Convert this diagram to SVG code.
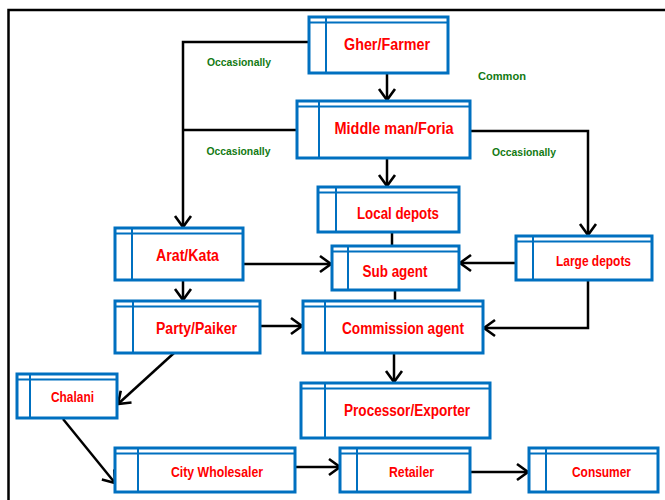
<svg xmlns="http://www.w3.org/2000/svg" width="665" height="500" viewBox="0 0 665 500">
<style>
.box{fill:#fff;stroke:#0070C0;stroke-width:3}
.in{stroke:#0070C0;stroke-width:2;fill:none}
.lbl{font-family:"Liberation Sans",Arial,sans-serif;font-weight:bold;fill:#FF0000;text-anchor:middle}
.note{font-family:"Liberation Sans",Arial,sans-serif;font-weight:bold;fill:#137A13;font-size:11.5px;text-anchor:middle}
.c{fill:none;stroke:#000;stroke-width:2.5}
</style>
<defs>
<marker id="ah" markerUnits="userSpaceOnUse" markerWidth="16" markerHeight="20" refX="12" refY="9" orient="auto" viewBox="0 0 16 18">
<path d="M1,1 L12,9 L1,17" fill="none" stroke="#000" stroke-width="2.6"/>
</marker>
</defs>
<rect x="0" y="0" width="665" height="500" fill="#fff"/>
<path d="M8.5,500 V10 H665" fill="none" stroke="#000" stroke-width="2.5"/>

<g id="connectors">
<path class="c" d="M387,73 V100" marker-end="url(#ah)"/>
<path class="c" d="M309,42 H183 V227" marker-end="url(#ah)"/>
<path class="c" d="M297,130 H183"/>
<path class="c" d="M470,131 H588 V235" marker-end="url(#ah)"/>
<path class="c" d="M387,158 V186" marker-end="url(#ah)"/>
<path class="c" d="M392,232 V246"/>
<path class="c" d="M395,290 V301"/>
<path class="c" d="M243,264 H331" marker-end="url(#ah)"/>
<path class="c" d="M516,263 H460" marker-end="url(#ah)"/>
<path class="c" d="M588,280 V328 H484" marker-end="url(#ah)"/>
<path class="c" d="M183,280 V300" marker-end="url(#ah)"/>
<path class="c" d="M260,326 H302" marker-end="url(#ah)"/>
<path class="c" d="M174,353 L118,404" marker-end="url(#ah)"/>
<path class="c" d="M63,419 L115,483" marker-end="url(#ah)"/>
<path class="c" d="M394,353 V382" marker-end="url(#ah)"/>
<path class="c" d="M296,467 H340" marker-end="url(#ah)"/>
<path class="c" d="M471,472 H528" marker-end="url(#ah)"/>
</g>

<g id="gher-farmer">
<rect class="box" x="309" y="17" width="139" height="56"/>
<path class="in" d="M309,22.5 H448 M326,17 V73"/>
<text class="lbl" x="387" y="49.5" font-size="16" textLength="86" lengthAdjust="spacingAndGlyphs">Gher/Farmer</text>
</g>
<g id="middle-man">
<rect class="box" x="297" y="101" width="173" height="57"/>
<path class="in" d="M297,106.5 H470 M319,101 V158"/>
<text class="lbl" x="394" y="133.5" font-size="16" textLength="119" lengthAdjust="spacingAndGlyphs">Middle man/Foria</text>
</g>
<g id="local-depots">
<rect class="box" x="318" y="187" width="141" height="45"/>
<path class="in" d="M318,192.5 H459 M336,187 V232"/>
<text class="lbl" x="398" y="218.5" font-size="16" textLength="82" lengthAdjust="spacingAndGlyphs">Local depots</text>
</g>
<g id="sub-agent">
<rect class="box" x="332" y="246" width="127" height="44"/>
<path class="in" d="M332,251.5 H459 M348,246 V290"/>
<text class="lbl" x="395" y="276.5" font-size="16" textLength="65" lengthAdjust="spacingAndGlyphs">Sub agent</text>
</g>
<g id="commission-agent">
<rect class="box" x="303" y="301" width="180" height="52"/>
<path class="in" d="M303,306.5 H483 M325,301 V353"/>
<text class="lbl" x="403" y="333.5" font-size="16" textLength="122" lengthAdjust="spacingAndGlyphs">Commission agent</text>
</g>
<g id="large-depots">
<rect class="box" x="516" y="236" width="136" height="44"/>
<path class="in" d="M516,241.5 H652 M533,236 V280"/>
<text class="lbl" x="593.5" y="265.5" font-size="14" textLength="75" lengthAdjust="spacingAndGlyphs">Large depots</text>
</g>
<g id="arat-kata">
<rect class="box" x="115" y="228" width="128" height="52"/>
<path class="in" d="M115,233.5 H243 M132,228 V280"/>
<text class="lbl" x="187.5" y="260.5" font-size="16" textLength="63" lengthAdjust="spacingAndGlyphs">Arat/Kata</text>
</g>
<g id="party-paiker">
<rect class="box" x="115" y="301" width="145" height="52"/>
<path class="in" d="M115,306.5 H260 M133,301 V353"/>
<text class="lbl" x="196.5" y="333.5" font-size="16" textLength="81" lengthAdjust="spacingAndGlyphs">Party/Paiker</text>
</g>
<g id="chalani">
<rect class="box" x="17" y="374" width="100" height="44"/>
<path class="in" d="M17,379.5 H117 M30,374 V418"/>
<text class="lbl" x="72.5" y="402" font-size="14" textLength="43" lengthAdjust="spacingAndGlyphs">Chalani</text>
</g>
<g id="processor-exporter">
<rect class="box" x="301" y="383" width="189" height="55"/>
<path class="in" d="M301,388.5 H490 M325,383 V438"/>
<text class="lbl" x="407" y="415.5" font-size="16" textLength="126" lengthAdjust="spacingAndGlyphs">Processor/Exporter</text>
</g>
<g id="city-wholesaler">
<rect class="box" x="115" y="448" width="180" height="44"/>
<path class="in" d="M115,453.5 H295 M138,448 V492"/>
<text class="lbl" x="217" y="476.5" font-size="14" textLength="92" lengthAdjust="spacingAndGlyphs">City Wholesaler</text>
</g>
<g id="retailer">
<rect class="box" x="340" y="448" width="130" height="44"/>
<path class="in" d="M340,453.5 H470 M357,448 V492"/>
<text class="lbl" x="411.5" y="476.5" font-size="14" textLength="45" lengthAdjust="spacingAndGlyphs">Retailer</text>
</g>
<g id="consumer">
<rect class="box" x="529" y="448" width="129" height="44"/>
<path class="in" d="M529,453.5 H658 M546,448 V492"/>
<text class="lbl" x="601.5" y="477" font-size="14" textLength="59" lengthAdjust="spacingAndGlyphs">Consumer</text>
</g>

<g id="labels">
<text class="note" x="239" y="65.5" textLength="64" lengthAdjust="spacingAndGlyphs">Occasionally</text>
<text class="note" x="502" y="79.5" textLength="48" lengthAdjust="spacingAndGlyphs">Common</text>
<text class="note" x="238.5" y="154.5" textLength="64" lengthAdjust="spacingAndGlyphs">Occasionally</text>
<text class="note" x="524" y="155.5" textLength="64" lengthAdjust="spacingAndGlyphs">Occasionally</text>
</g>
</svg>
